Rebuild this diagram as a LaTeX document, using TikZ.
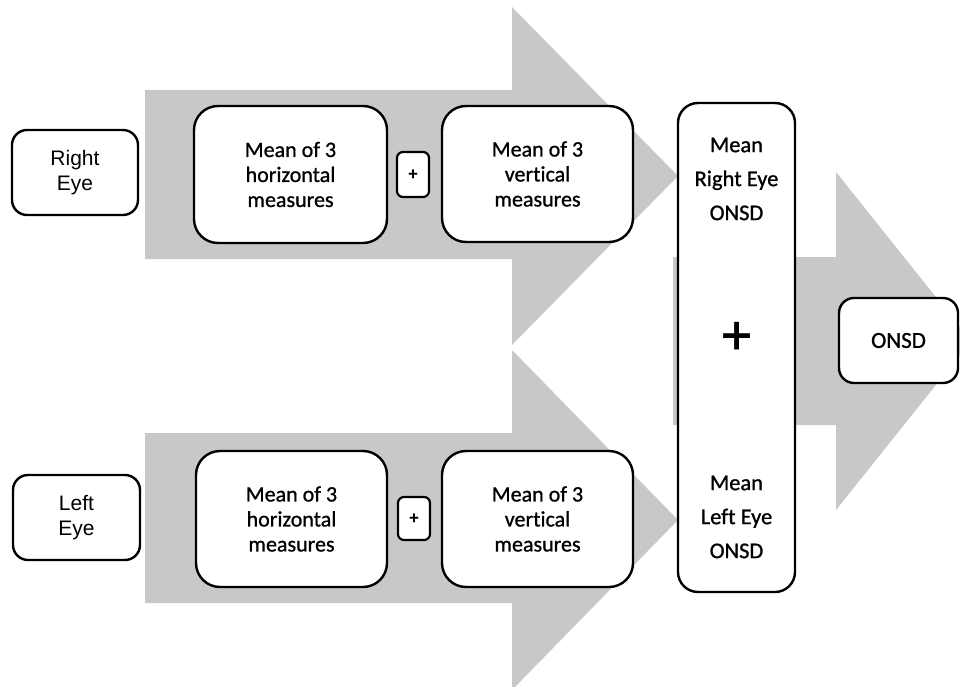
\documentclass[tikz,border=0pt]{standalone}
\usepackage{fontspec}
\setmainfont{Carlito}[Ligatures=NoCommon, FakeBold=0.9]
\newfontfamily\arialf{Liberation Sans}
\definecolor{arrowgray}{RGB}{200,200,200}
\tikzset{
  bigarrow/.style={fill=arrowgray, draw=none},
  box/.style={draw=black, line width=2.4pt, fill=white, rounded corners=24pt, inner sep=0pt, align=center, font=\fontsize{22}{25}\selectfont},
  eyebox/.style={box, rounded corners=15pt, font=\arialf\fontsize{21}{25}\selectfont},
  plusbox/.style={draw=black, line width=2.2pt, fill=white, rounded corners=6pt, inner sep=0pt, font=\bfseries\fontsize{18}{18}\selectfont},
  tallbox/.style={draw=black, line width=2.4pt, fill=white, rounded corners=20pt, inner sep=0pt},
  midtext/.style={align=center, inner sep=0pt, font=\fontsize{22.5}{34}\selectfont}
}
\begin{document}
\begin{tikzpicture}[x=1pt,y=-1pt]
\clip (0,0) rectangle (960,687);
\fill[white] (0,0) rectangle (960,687);
% big gray arrows
\fill[bigarrow] (145,90) -- (512,90) -- (512,7) -- (678,176) -- (512,345) -- (512,259) -- (145,259) -- cycle;
\fill[bigarrow] (145,433) -- (512,433) -- (512,350) -- (678,520) -- (512,690) -- (512,603) -- (145,603) -- cycle;
\fill[bigarrow] (673,257) -- (836,257) -- (836,172) -- (971,341) -- (836,510) -- (836,425) -- (673,425) -- cycle;
% boxes
\node[eyebox, minimum width=126pt, minimum height=85pt] (reye) at (75,172.5) {Right\\Eye};
\node[eyebox, minimum width=127pt, minimum height=85pt] (leye) at (76.5,517.5) {Left\\Eye};
\node[box, minimum width=193pt, minimum height=137pt] (h1) at (290.5,174.5) {Mean of 3\\horizontal\\measures};
\node[plusbox, minimum width=32pt, minimum height=45pt] (p1) at (413,174.5) {+};
\node[box, minimum width=191pt, minimum height=136pt] (v1) at (537.5,174) {Mean of 3\\vertical\\measures};
\node[box, minimum width=191pt, minimum height=136pt] (h2) at (291.5,519) {Mean of 3\\horizontal\\measures};
\node[plusbox, minimum width=32pt, minimum height=43pt] (p2) at (414,518.5) {+};
\node[box, minimum width=191pt, minimum height=136pt] (v2) at (537.5,519) {Mean of 3\\vertical\\measures};
\node[tallbox, minimum width=117pt, minimum height=489pt] (mid) at (736.5,347.5) {};
\node[midtext] (rmean) at (736.5,179) {Mean\\Right Eye\\ONSD};
\node[inner sep=0pt, font=\fontsize{58}{58}\selectfont] (bigplus) at (736.5,338) {+};
\node[midtext] (lmean) at (736.5,517) {Mean\\Left Eye\\ONSD};
\node[box, rounded corners=15pt, minimum width=119pt, minimum height=85pt, font=\fontsize{23}{25}\selectfont] (onsd) at (898.5,340.5) {ONSD};
\end{tikzpicture}
\end{document}
